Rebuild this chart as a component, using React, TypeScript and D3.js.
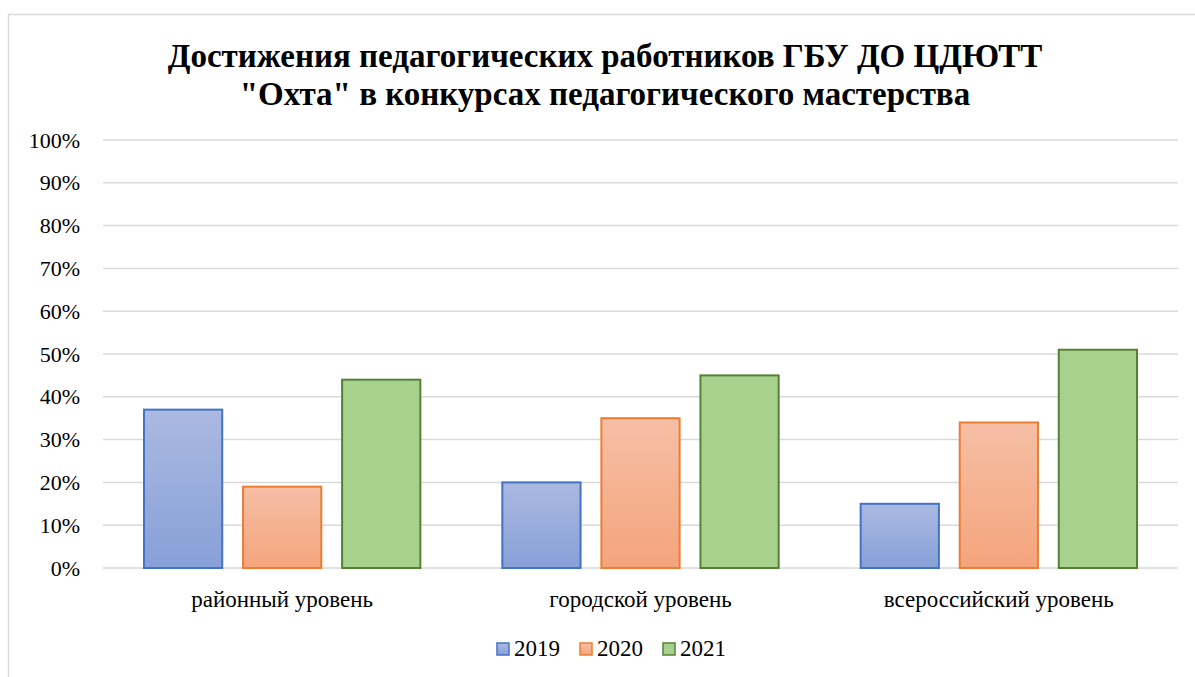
import React, { useEffect } from 'react';
import * as d3 from 'd3';

const categories = ['районный уровень', 'городской уровень', 'всероссийский уровень'];
const seriesNames = ['2019', '2020', '2021'];
const values2019 = [37, 20, 15];
const values2020 = [19, 35, 34];
const values2021 = [44, 45, 51];
const yTicks = [0, 10, 20, 30, 40, 50, 60, 70, 80, 90, 100];
const titleLines = ['Достижения педагогических работников ГБУ ДО ЦДЮТТ', '"Охта" в конкурсах педагогического мастерства'];

const W = 1195, H = 677;
const margin = { left: 103, right: 17, top: 140, bottom: 109 };

const strokes = ['#4472c4', '#ed7d31', '#548235'];
const fills = ['url(#gBlue)', 'url(#gOrange)', '#a9d18e'];
const FONT = "'Liberation Serif', 'Times New Roman', Tinos, serif";

export default function App() {
  useEffect(() => {
    document.body.style.margin = '0';
  }, []);

  const series = [values2019, values2020, values2021];
  const x0 = d3.scaleBand().domain(categories).range([margin.left, W - margin.right]).paddingInner(0).paddingOuter(0);
  const x1 = d3.scaleBand().domain(seriesNames).range([40, x0.bandwidth() - 40]).paddingInner(0.19).paddingOuter(0);
  const y = d3.scaleLinear().domain([0, 100]).range([H - margin.bottom, margin.top]);
  const tf = { fontFamily: FONT };

  return (
    <svg width={W} height={H} style={{ display: 'block' }} fontFamily={FONT}>
      <defs>
        <linearGradient id="gBlue" x1="0" y1="0" x2="0" y2="1">
          <stop offset="0" stopColor="#abb9e1" />
          <stop offset="1" stopColor="#87a0d8" />
        </linearGradient>
        <linearGradient id="gOrange" x1="0" y1="0" x2="0" y2="1">
          <stop offset="0" stopColor="#f6bfa5" />
          <stop offset="1" stopColor="#f4a47c" />
        </linearGradient>
      </defs>
      <rect x={0} y={0} width={W} height={H} fill="#fff" />
      <rect x={8.5} y={14.5} width={1250} height={720} fill="none" stroke="#d9d9d9" strokeWidth={1.5} />
      {titleLines.map((t, i) => (
        <text key={i} x={605} y={67 + i * 38} textAnchor="middle" fontSize={33} fontWeight="bold" style={tf}>{t}</text>
      ))}
      {yTicks.map(t => (
        <g key={t}>
          <line x1={margin.left} x2={W - margin.right} y1={y(t)} y2={y(t)} stroke="#d9d9d9" strokeWidth={1.5} />
          <text x={80} y={y(t) + 7.5} textAnchor="end" fontSize={22} style={tf}>{t}%</text>
        </g>
      ))}
      {categories.map((c, ci) => (
        <g key={c} transform={`translate(${x0(c)},0)`}>
          {seriesNames.map((s, si) => {
            const v = series[si][ci];
            return (
              <rect key={s} x={x1(s)! + 1} y={y(v)} width={x1.bandwidth() - 2} height={y(0) - y(v)}
                fill={fills[si]} stroke={strokes[si]} strokeWidth={2} />
            );
          })}
          <text x={x0.bandwidth() / 2} y={607} textAnchor="middle" fontSize={23} style={tf}>{c}</text>
        </g>
      ))}
      {seriesNames.map((s, i) => {
        const lx = 497 + i * 83;
        return (
          <g key={s}>
            <rect x={lx} y={643} width={12} height={12} fill={fills[i]} stroke={strokes[i]} strokeWidth={1.5} />
            <text x={lx + 17} y={656} fontSize={23} style={tf}>{s}</text>
          </g>
        );
      })}
    </svg>
  );
}
